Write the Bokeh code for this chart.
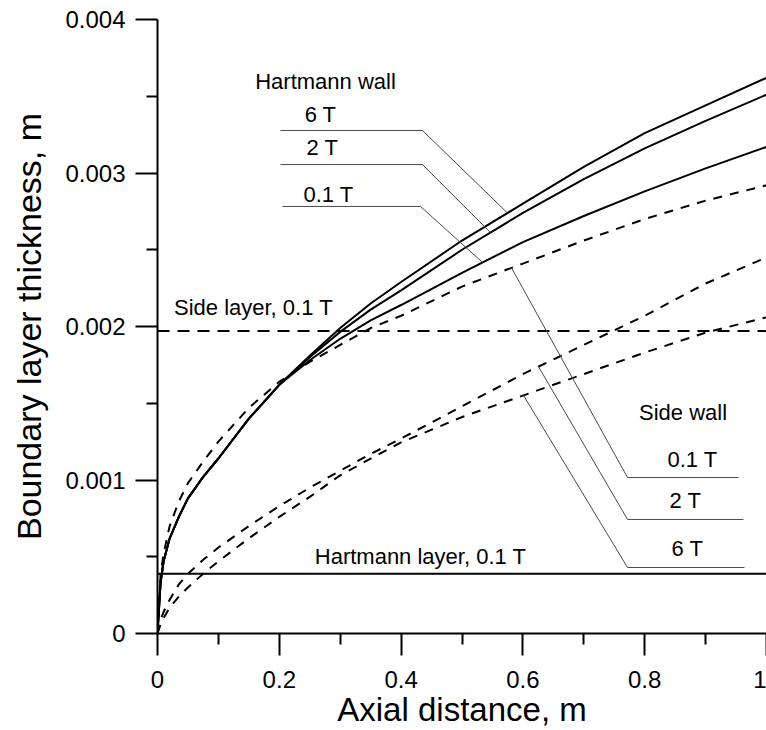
import numpy as np
from bokeh.plotting import figure
from bokeh.models import FixedTicker, Range1d
from bokeh.core.properties import value
from bokeh.embed import file_html
from bokeh.resources import INLINE

# ---- data ----
x = [0, 0.005, 0.01, 0.02, 0.035, 0.05, 0.075, 0.1, 0.15, 0.2, 0.25, 0.3, 0.35, 0.4,
     0.5, 0.6, 0.7, 0.8, 0.9, 1.0]

# Hartmann wall (solid), boundary layer thickness in mm (scaled to m below)
hart_6T = [0, 0.33, 0.47, 0.62, 0.76, 0.88, 1.02, 1.14, 1.40, 1.62, 1.81, 1.99, 2.15, 2.29,
           2.56, 2.80, 3.04, 3.26, 3.44, 3.62]
hart_2T = [0, 0.33, 0.47, 0.62, 0.76, 0.88, 1.02, 1.14, 1.40, 1.62, 1.80, 1.965, 2.11, 2.235,
           2.50, 2.74, 2.96, 3.16, 3.34, 3.51]
hart_01T = [0, 0.33, 0.47, 0.62, 0.76, 0.88, 1.02, 1.14, 1.40, 1.62, 1.78, 1.92, 2.04, 2.14,
            2.35, 2.55, 2.72, 2.88, 3.03, 3.17]

# Side wall (dashed)
side_01T = [0, 0.38, 0.52, 0.70, 0.86, 0.98, 1.12, 1.25, 1.47, 1.64, 1.77, 1.88, 1.99, 2.07,
            2.26, 2.41, 2.56, 2.70, 2.82, 2.92]
side_2T = [0, 0.09, 0.14, 0.22, 0.32, 0.39, 0.48, 0.56, 0.70, 0.83, 0.95, 1.06, 1.17, 1.27,
           1.48, 1.69, 1.88, 2.07, 2.28, 2.45]
side_6T = [0, 0.06, 0.10, 0.17, 0.24, 0.30, 0.39, 0.47, 0.62, 0.76, 0.89, 1.03, 1.14, 1.245,
           1.41, 1.55, 1.69, 1.83, 1.96, 2.06]

hartmann_layer_01T = 0.00039
side_layer_01T = 0.00197

x_ticks = [0, 0.2, 0.4, 0.6, 0.8, 1.0]
x_tick_labels = ["0", "0.2", "0.4", "0.6", "0.8", "1"]
y_ticks = [0, 0.001, 0.002, 0.003, 0.004]
y_tick_labels = ["0", "0.001", "0.002", "0.003", "0.004"]

field_labels = ["6 T", "2 T", "0.1 T"]

# ---- figure ----
FONT = "Liberation Sans"
p = figure(width=766, height=730, x_range=Range1d(0, 1), y_range=Range1d(0, 0.004),
           output_backend="svg", toolbar_location=None,
           min_border_left=157, min_border_right=0, min_border_top=19, min_border_bottom=97)
p.outline_line_color = None
p.grid.visible = False
p.background_fill_color = "white"
p.border_fill_color = "white"

xs = np.array(x)
m = 1e-3
curves_solid = [hart_6T, hart_2T, hart_01T]
curves_dash = [side_01T, side_2T, side_6T]
for c in curves_solid:
    p.line(xs, np.array(c) * m, line_color="black", line_width=2)
for c in curves_dash:
    p.line(xs, np.array(c) * m, line_color="black", line_width=2, line_dash="9 8")

p.line([0, 1], [hartmann_layer_01T] * 2, line_color="black", line_width=2)
p.line([0, 1], [side_layer_01T] * 2, line_color="black", line_width=2, line_dash="12 8")

# ---- leaders ----
LC = "#4a4a4a"
hart_leader_y = [0.003277, 0.003055, 0.002782]
hart_leader_x0 = [0.2020, 0.2020, 0.2053]
hart_leader_x1 = [0.4351, 0.4351, 0.4319]
hart_leader_end = [0.5747, 0.5468, 0.5337]
for c, y0, xa, xb, xe in zip(curves_solid, hart_leader_y, hart_leader_x0, hart_leader_x1, hart_leader_end):
    ye = np.interp(xe, xs, np.array(c) * m)
    p.line([xa, xb, xe], [y0, y0, ye], line_color=LC, line_width=1)

side_leader_y = [0.001016, 0.000743, 0.000430]
side_leader_x0 = [0.7718, 0.7718, 0.7718]
side_leader_x1 = [0.9540, 0.9622, 0.9639]
side_leader_end = [0.5813, 0.6256, 0.6010]
for c, y0, xa, xb, xe in zip(curves_dash, side_leader_y, side_leader_x0, side_leader_x1, side_leader_end):
    ye = np.interp(xe, xs, np.array(c) * m)
    p.line([xb, xa, xe], [y0, y0, ye], line_color=LC, line_width=1)

# ---- texts ----
txt_kw = dict(text_font=value(FONT), text_font_size="22px", text_color="black",
              text_align="center", text_baseline="alphabetic")
dy = 0.0000456  # baseline correction
p.text(x=[0.2759], y=[0.003550 + dy], text=["Hartmann wall"], **txt_kw)
p.text(x=[0.2677, 0.2709, 0.2808], y=[0.003336 + dy, 0.003121 + dy, 0.002814 + dy],
       text=field_labels, **txt_kw)
p.text(x=[0.1576], y=[0.002078 + dy], text=["Side layer, 0.1 T"], **txt_kw)
p.text(x=[0.4319], y=[0.000456 + dy], text=["Hartmann layer, 0.1 T"], **txt_kw)
p.text(x=[0.8629], y=[0.001394 + dy], text=["Side wall"], **txt_kw)
p.text(x=[0.8785, 0.8670, 0.8703], y=[0.001088 + dy, 0.000821 + dy, 0.000508 + dy],
       text=field_labels[::-1], **txt_kw)

# ---- axes ----
for ax in (p.xaxis[0], p.yaxis[0]):
    ax.axis_line_width = 2
    ax.axis_line_color = "black"
    ax.major_tick_line_width = 2
    ax.minor_tick_line_width = 2
    ax.major_tick_in = 0
    ax.major_tick_out = 22
    ax.minor_tick_in = 0
    ax.minor_tick_out = 11
    ax.major_label_text_font = FONT
    ax.major_label_text_font_size = "24px"
    ax.major_label_text_color = "black"
    ax.axis_label_text_font = FONT
    ax.axis_label_text_font_style = "normal"
    ax.axis_label_text_color = "black"

p.xaxis.major_label_standoff = 15
p.yaxis.major_label_standoff = 10
p.xaxis.axis_label_text_font_size = "33px"
p.yaxis.axis_label_text_font_size = "34px"

p.xaxis.ticker = FixedTicker(ticks=x_ticks,
                             minor_ticks=list(np.array(x_ticks[:-1]) + 0.1))
p.yaxis.ticker = FixedTicker(ticks=y_ticks,
                             minor_ticks=list(np.array(y_ticks[:-1]) + 0.0005))
p.xaxis.major_label_overrides = dict(zip(x_ticks, x_tick_labels))
p.yaxis.major_label_overrides = dict(zip(y_ticks, y_tick_labels))
p.xaxis.axis_label = "Axial distance, m"
p.yaxis.axis_label = "Boundary layer thickness, m"
p.xaxis.axis_label_standoff = 0
p.yaxis.axis_label_standoff = 14

open("out.html", "w").write(file_html(p, INLINE))
